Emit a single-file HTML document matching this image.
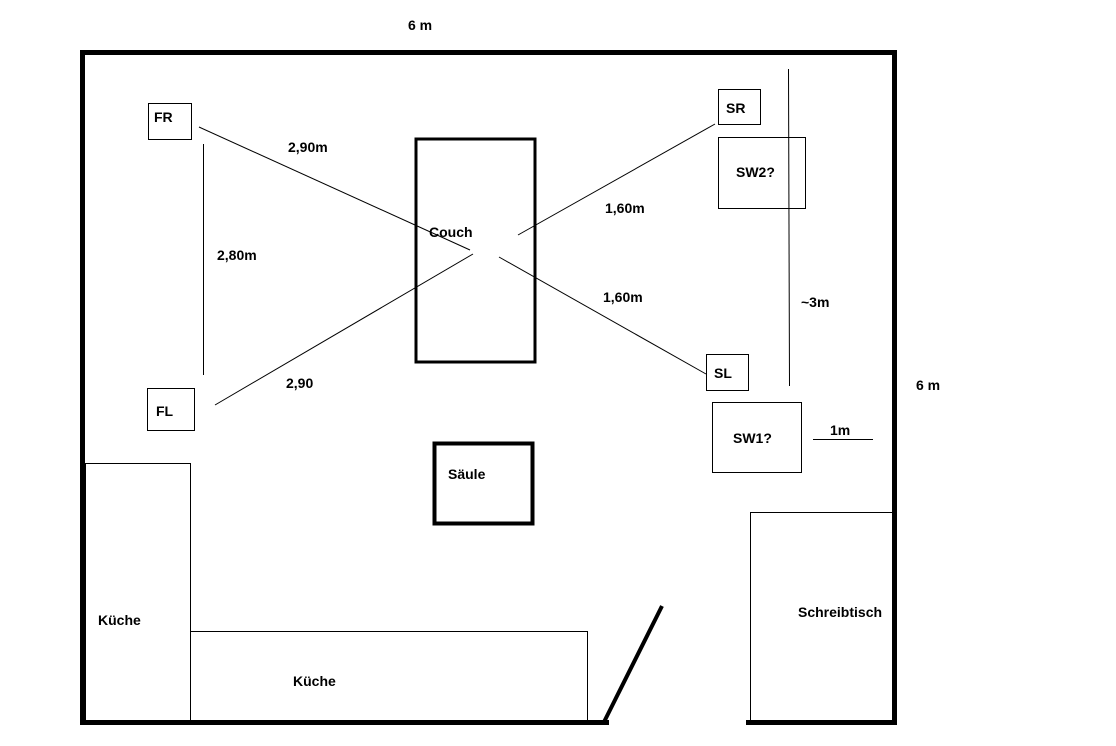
<!DOCTYPE html>
<html><head><meta charset="utf-8"><style>
html,body{margin:0;padding:0;background:#fff;}
svg text{font-family:"Liberation Sans",Arial,sans-serif;font-weight:bold;font-size:14px;fill:#000;}
</style></head><body>
<svg width="1116" height="741" viewBox="0 0 1116 741" xmlns="http://www.w3.org/2000/svg">
<g fill="none" stroke="#000">
<path d="M82.5 722.5 V52.5 H894.5 V722.5" stroke-width="5"/>
<line x1="80" y1="722.5" x2="609" y2="722.5" stroke-width="5"/>
<line x1="746" y1="722.5" x2="897" y2="722.5" stroke-width="5"/>
<line x1="604" y1="722" x2="662" y2="606" stroke-width="4"/>
<rect x="148.5" y="103.5" width="43" height="36" stroke-width="1"/>
<rect x="147.5" y="388.5" width="47" height="42" stroke-width="1"/>
<rect x="718.5" y="89.5" width="42" height="35" stroke-width="1"/>
<rect x="718.5" y="137.5" width="87" height="71" stroke-width="1"/>
<rect x="706.5" y="354.5" width="42" height="36" stroke-width="1"/>
<rect x="712.5" y="402.5" width="89" height="70" stroke-width="1"/>
<rect x="416" y="139" width="119" height="223" stroke-width="3"/>
<rect x="434.5" y="443.5" width="98" height="80" stroke-width="4"/>
<rect x="85.5" y="463.5" width="105" height="258" stroke-width="1"/>
<rect x="190.5" y="631.5" width="397" height="90" stroke-width="1"/>
<rect x="750.5" y="512.5" width="142" height="209" stroke-width="1"/>
<line x1="199" y1="127" x2="470" y2="250" stroke-width="1"/>
<line x1="203.5" y1="144" x2="203.5" y2="375" stroke-width="1"/>
<line x1="215" y1="405" x2="473" y2="254" stroke-width="1"/>
<line x1="518" y1="235" x2="715" y2="124" stroke-width="1"/>
<line x1="499" y1="257" x2="706" y2="374" stroke-width="1"/>
<line x1="788.5" y1="69" x2="789.5" y2="386" stroke-width="1"/>
<line x1="813" y1="439.5" x2="873" y2="439.5" stroke-width="1"/>
</g>
<text x="408" y="30">6 m</text>
<text x="916" y="390">6 m</text>
<text x="154" y="122">FR</text>
<text x="156" y="416">FL</text>
<text x="726" y="113">SR</text>
<text x="714" y="378">SL</text>
<text x="736" y="177">SW2?</text>
<text x="733" y="443">SW1?</text>
<text x="288" y="152">2,90m</text>
<text x="217" y="260">2,80m</text>
<text x="429" y="237">Couch</text>
<text x="605" y="213">1,60m</text>
<text x="603" y="302">1,60m</text>
<text x="801" y="307">~3m</text>
<text x="286" y="388">2,90</text>
<text x="830" y="435">1m</text>
<text x="448" y="479">Säule</text>
<text x="98" y="625">Küche</text>
<text x="293" y="686">Küche</text>
<text x="798" y="617">Schreibtisch</text>
</svg>
</body></html>
